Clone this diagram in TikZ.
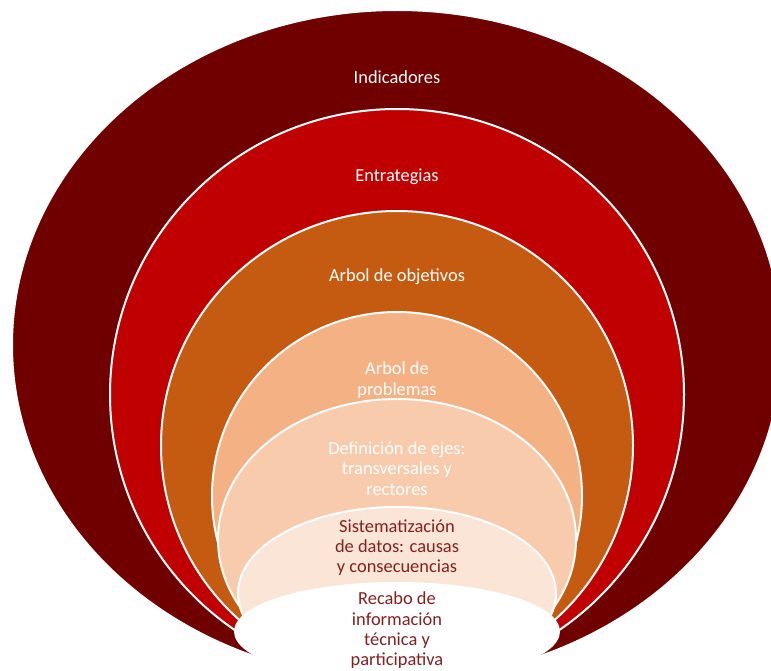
\documentclass[tikz,border=0pt]{standalone}
\usepackage{fontspec}
\setmainfont{Carlito}
\usetikzlibrary{shapes.geometric}
\definecolor{cDark}{HTML}{700000}
\definecolor{cRed}{HTML}{C00000}
\definecolor{cOrange}{HTML}{C55A11}
\definecolor{cPeach}{HTML}{F4B183}
\definecolor{cLight}{HTML}{F8CBAD}
\definecolor{cPale}{HTML}{FBE5D6}
\definecolor{cText}{RGB}{132,32,32}
\tikzset{
  ring/.style={ellipse, draw=white, line width=2pt, inner sep=0pt, outer sep=0pt},
  lbl/.style={align=center, inner sep=0pt, font=\fontsize{18.4}{20.3}\selectfont},
}
\begin{document}
\begin{tikzpicture}[x=1pt,y=-1pt]
\useasboundingbox (0,0) rectangle (771,671);
\clip (0,0) rectangle (771,671);
\node[ring, fill=cDark,   minimum width=770pt, minimum height=670pt] (e1) at (397,345) {};
\node[ring, fill=cRed,    minimum width=574pt, minimum height=571pt] (e2) at (397,394.5) {};
\node[ring, fill=cOrange, minimum width=472pt, minimum height=469pt] (e3) at (397,445.5) {};
\node[ring, fill=cPeach,  minimum width=370pt, minimum height=368pt] (e4) at (397,496) {};
\node[ring, fill=cLight,  minimum width=358pt, minimum height=281pt] (e5) at (397,539.5) {};
\node[ring, fill=cPale,   minimum width=318pt, minimum height=173pt] (e6) at (397,593.5) {};
\node[ring, fill=white,   minimum width=324pt, minimum height=97pt]  (e7) at (397,631.5) {};

\node[lbl, text=white] (t1) at (397,77) {Indicadores};
\node[lbl, text=white] (t2) at (397,177) {Entrategias};
\node[lbl, text=white] (t3) at (397,277) {Arbol de objetivos};
\node[lbl, text=white] (t4) at (397,380) {Arbol de\\problemas};
\node[lbl, text=white] (t5) at (397,468.5) {Definición de ejes:\\transversales y\\rectores};
\node[lbl, text=cText] (t6) at (397,547.5) {Sistematización\\de datos: causas\\y consecuencias};
\node[lbl, text=cText] (t7) at (397,630.5) {Recabo de\\información\\técnica y\\participativa};
\end{tikzpicture}
\end{document}
